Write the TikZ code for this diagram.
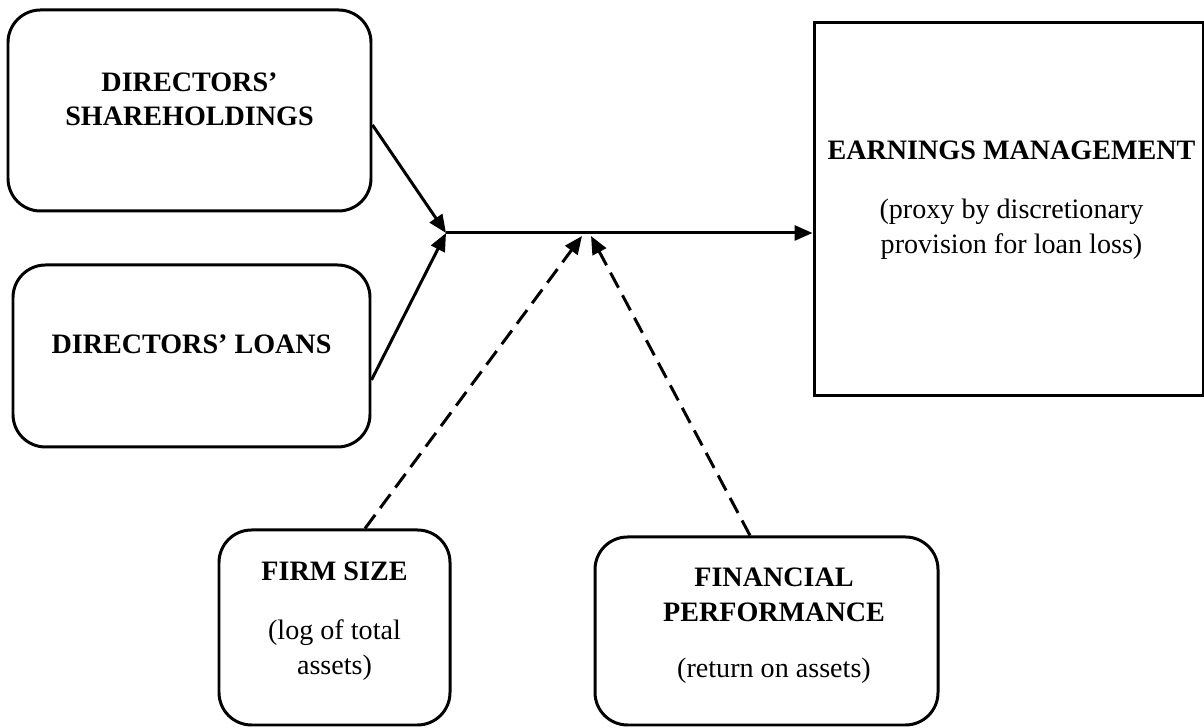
\documentclass[tikz,border=0pt]{standalone}
\usepackage{fontspec}
\setmainfont{Liberation Serif}
\usetikzlibrary{arrows.meta}

\begin{document}
\begin{tikzpicture}%
	[line width=1.7pt,
	box/.style={draw, rounded corners=0.65cm, inner sep=0pt},
	outcome/.style={draw, inner sep=0pt},
	caption/.style={align=center, font=\fontsize{16}{19.5}\selectfont},
	link/.style={-{Triangle[length=0.36cm,width=0.3cm]}},
	modlink/.style={link, dash pattern=on 0.34cm off 0.17cm}]
%
\useasboundingbox (0,0) rectangle (24.08,14.56);
%
%% Boxes
%%
\node[box, minimum width=7.26cm, minimum height=4.02cm] (share) at (3.79,12.35) {};
\node[box, minimum width=7.14cm, minimum height=3.64cm] (loans) at (3.83,7.44) {};
\node[outcome, minimum width=7.78cm, minimum height=7.46cm] (earn) at (20.17,10.37) {};
\node[box, minimum width=4.62cm, minimum height=3.90cm] (firm) at (6.69,2.01) {};
\node[box, minimum width=6.86cm, minimum height=3.76cm] (perf) at (15.33,1.94) {};
%%
%% Texts
%%
\node[caption] (shareT) at ([yshift=0.22cm]share.center) {\textbf{DIRECTORS'}\\\textbf{SHAREHOLDINGS}};
\node[caption] (loansT) at ([yshift=0.24cm]loans.center) {\textbf{DIRECTORS' LOANS}};
\node[caption] (earnT) at (20.23,10.56) {\textbf{EARNINGS MANAGEMENT}\\[0.5cm](proxy by discretionary\\provision for loan loss)};
\node[caption] (firmT) at ([yshift=0.13cm]firm.center) {\textbf{FIRM SIZE}\\[0.5cm](log of total\\assets)};
\node[caption] (perfT) at (15.48,2.04) {\textbf{FINANCIAL}\\\textbf{PERFORMANCE}\\[0.45cm](return on assets)};
%%
%% Arrows
%%
\coordinate (join) at (8.92,9.90);
\coordinate (fsTip) at (11.64,9.84);
\coordinate (fpTip) at (11.82,9.84);
\draw[link] ([yshift=-0.29cm]share.east) -- (join);
\draw[link] ([yshift=-0.48cm]loans.east) -- (join);
\draw[link] (join) -- (join -| earn.west);
\draw[modlink] ([xshift=0.61cm]firm.north) -- (fsTip);
\draw[modlink] ([xshift=-0.33cm]perf.north) -- (fpTip);
%%
\end{tikzpicture}
\end{document}
